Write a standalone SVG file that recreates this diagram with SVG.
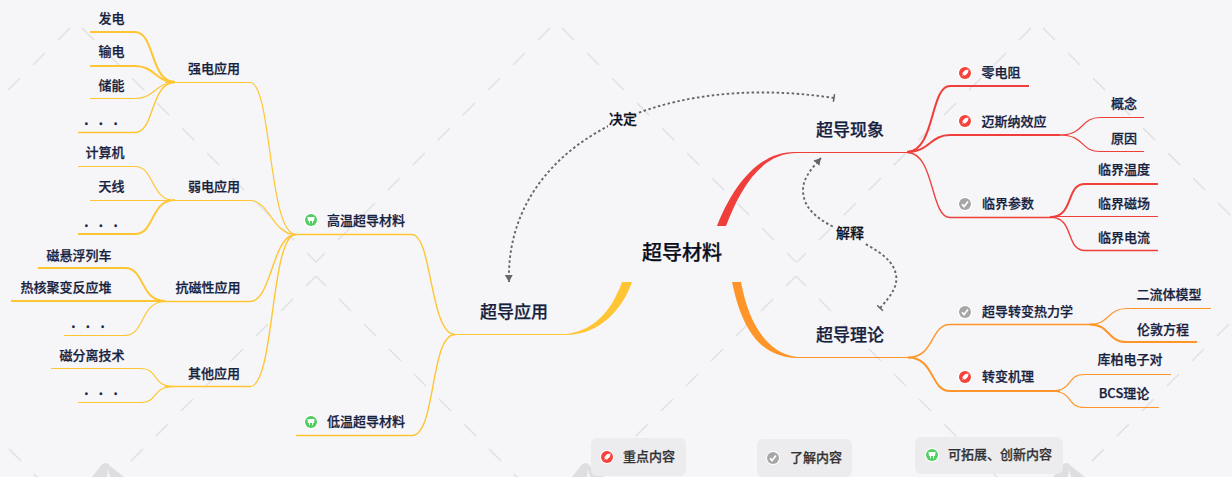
<svg xmlns="http://www.w3.org/2000/svg" xmlns:xlink="http://www.w3.org/1999/xlink" width="1232" height="477" viewBox="0 0 1232 477">
<style>
text{font-family:"Noto Sans CJK SC","Noto Sans",sans-serif;font-weight:500;fill:#16213e;stroke:#16213e;stroke-width:.25px;text-anchor:middle;dominant-baseline:central;transform:translateY(-1.7px)}
.t13{font-size:13px}.t17{font-size:17px}.t20{font-size:20px;fill:#0b0f1c;stroke:#0b0f1c}.t14{font-size:14px;fill:#0b0f1c;stroke:#0b0f1c}
.leg{font-size:13px;fill:#333;stroke:#333}
.dots{font-size:13px;font-weight:700;word-spacing:7.4px;transform:none}
.wm{fill:none;stroke:#e2e2e5;stroke-width:1.6;stroke-dasharray:17 18.4}
.y,.r,.o{fill:none;stroke-linecap:butt}
.y{stroke:#ffc533}.r{stroke:#f03f3a}.o{stroke:#ff9528}
.a{stroke-width:1.2}.b{stroke-width:1.4}.c{stroke-width:2}
.rel{fill:none;stroke:#666;stroke-width:1.9;stroke-dasharray:2.5 2.5}
.leg-box{fill:#ececee}
</style>
<defs>
<g id="wm-tile">
<path class="wm" d="M82,28L316,262"/>
<path class="wm" d="M70,28L-164,262"/>
<path class="wm" d="M316,276L556,516" stroke-dashoffset="3"/>
<path class="wm" d="M316,276L76,516" stroke-dashoffset="3"/>
<path d="M106,463Q102,463 100,467L92,477H107L108,469L110,477H124L110,466Q108,463 106,463Z" fill="#dedee0"/>
</g>
<g id="i-red"><circle r="7" fill="#fff"/><circle r="6" fill="#f5423c"/><path d="M3.6,-3.6L.2,-3L-3,.4L-1.6,.8L-3.4,3.4L-.8,1.6L-.4,3L3,-.2Z" fill="#fff"/></g>
<g id="i-gray"><circle r="7" fill="#fff"/><circle r="6" fill="#a6a6a6"/><path d="M-3,.2L-1,2.6L3,-2.6" fill="none" stroke="#fff" stroke-width="1.7"/></g>
<g id="i-green"><circle r="7" fill="#fff"/><circle r="6" fill="#4fcf5f"/><path d="M-3.6,-3H3.6L3,1H2V3.2H1V1H-1V3.2H-2V1H-3Z" fill="#fff"/></g>
<marker id="arr" markerUnits="userSpaceOnUse" markerWidth="10" markerHeight="10" refX="7" refY="4" orient="auto"><path d="M0,0L7,4L0,8Z" fill="#666"/></marker>
<marker id="tail" markerUnits="userSpaceOnUse" markerWidth="4" markerHeight="10" refX="1" refY="4" orient="auto"><path d="M1,0V8" stroke="#666" stroke-width="1.6" fill="none"/></marker>
</defs>
<rect width="1232" height="477" fill="#f6f6f9"/>
<g id="watermark">
<use xlink:href="#wm-tile" href="#wm-tile"/>
<use xlink:href="#wm-tile" href="#wm-tile" x="480"/>
<use xlink:href="#wm-tile" href="#wm-tile" x="961"/>
<use xlink:href="#wm-tile" href="#wm-tile" x="-480"/>
</g>
<g id="connectors">
<path d="M622,282H632C622,310 600,334 567,335V334C595,330 612,310 622,282Z" fill="#ffc533"/>
<path d="M717,226H726C740,190 760,153 797,153V152C760,150 733,185 717,226Z" fill="#f03f3a"/>
<path d="M732,282H741C748,320 765,353 797,357V358C755,357 740,320 732,282Z" fill="#ff9528"/>
<path class="y a" d="M567,334.500H455"/>
<path class="r a" d="M797,152.500H910"/>
<path class="o a" d="M797,357.500H913"/>
<path class="y b" d="M455,334.500C430,334.500 432,234.500 412,234.500H296"/>
<path class="y b" d="M455,334.500C430,334.500 436,435.500 412,435.500H296"/>
<path class="y a" d="M296,234.500C268,234.500 272,82.500 250,82.500H165"/>
<path class="y a" d="M296,234.500C272,234.500 270,200.500 250,200.500H165"/>
<path class="y b" d="M296,234.500C272,234.500 272,301.500 250,301.500H160"/>
<path class="y b" d="M296,234.500C270,234.500 275,386.500 250,386.500H165"/>
<path class="y c" d="M175,82C150,82 155,32 135,32H90"/>
<path class="y c" d="M175,82C155,82 155,66 135,66H90"/>
<path class="y a" d="M175,82.500C155,82.500 155,98.500 135,98.500H90"/>
<path class="y b" d="M175,82.500C150,82.500 155,132.500 135,132.500H78"/>
<path class="y a" d="M175,200.500C150,200.500 155,166.500 135,166.500H78"/>
<path class="y a" d="M175,200.500H90"/>
<path class="y c" d="M175,200C150,200 155,234 135,234H78"/>
<path class="y c" d="M165,301C140,301 145,268 125,268H38"/>
<path class="y c" d="M165,301H11"/>
<path class="y a" d="M165,301.500C140,301.500 145,335.500 125,335.500H64"/>
<path class="y a" d="M175,386.500C150,386.500 160,368.500 140,368.500H51"/>
<path class="y a" d="M175,386.500C150,386.500 160,402.500 140,402.500H78"/>
<path class="r c" d="M907,152C935,152 930,86 950,86H1029"/>
<path class="r c" d="M907,152C930,152 930,135 950,135H1060"/>
<path class="r b" d="M907,152.500C935,152.500 930,217.500 950,217.500H1055"/>
<path class="r a" d="M1060,135C1085,135 1080,117.500 1100,117.500H1144"/>
<path class="r a" d="M1060,135C1085,135 1080,151.500 1100,151.500H1144"/>
<path class="r c" d="M1050,217C1075,217 1065,184 1085,184H1158"/>
<path class="r a" d="M1050,216.500H1158"/>
<path class="r b" d="M1050,217C1075,217 1065,250.500 1085,250.500H1158"/>
<path class="o b" d="M908,357.500C935,357.500 930,324.500 950,324.500H1095"/>
<path class="o c" d="M908,357.500C935,357.500 930,391 950,391H1060"/>
<path class="o a" d="M1090,324.500C1110,324.500 1107,308.500 1127,308.500H1211"/>
<path class="o c" d="M1090,324.500C1110,324.500 1107,342 1127,342H1197"/>
<path class="o a" d="M1050,391C1075,391 1065,374.500 1085,374.500H1171"/>
<path class="o a" d="M1050,391C1075,391 1065,407.500 1085,407.500H1159"/>
<path class="rel" d="M834,98C650,70 505,150 509,282" marker-start="url(#tail)" marker-end="url(#arr)"/>
<path class="rel" d="M880,308C892,295 898,285 896,275C893,255 865,245 850,235C830,225 803,215 803,190C803,178 812,168 821,158" marker-start="url(#tail)" marker-end="url(#arr)"/>
</g>
<g id="rel-labels">
<g id="label-juede"><rect x="608" y="110" width="30" height="20" fill="#f6f6f9"/><text class="t14" x="623" y="120">决定</text></g>
<g id="label-jieshi"><rect x="835" y="224" width="30" height="20" fill="#f6f6f9"/><text class="t14" x="850" y="234">解释</text></g>
</g>
<g id="n-root"><text class="t20" x="682" y="253">超导材料</text></g>
<g id="n-app"><text class="t17" x="514" y="312">超导应用</text></g>
<g id="n-phen"><text class="t17" x="850" y="130">超导现象</text></g>
<g id="n-theory"><text class="t17" x="850" y="335">超导理论</text></g>
<g id="n-htc"><use href="#i-green" x="311" y="220"/><text class="t13" x="366" y="221">高温超导材料</text></g>
<g id="n-ltc"><use href="#i-green" x="311" y="422"/><text class="t13" x="366" y="422">低温超导材料</text></g>
<g id="n-strong"><text class="t13" x="214" y="69">强电应用</text></g>
<g id="n-weak"><text class="t13" x="214" y="187">弱电应用</text></g>
<g id="n-diamag"><text class="t13" x="208" y="288">抗磁性应用</text></g>
<g id="n-other"><text class="t13" x="214" y="374">其他应用</text></g>
<g id="n-fadian"><text class="t13" x="111.500" y="19">发电</text></g>
<g id="n-shudian"><text class="t13" x="111.500" y="52">输电</text></g>
<g id="n-chuneng"><text class="t13" x="111.500" y="86">储能</text></g>
<g id="n-dots1"><text class="dots" x="101" y="119">. . .</text></g>
<g id="n-computer"><text class="t13" x="105" y="153">计算机</text></g>
<g id="n-antenna"><text class="t13" x="111.500" y="187">天线</text></g>
<g id="n-dots2"><text class="dots" x="101" y="221">. . .</text></g>
<g id="n-maglev"><text class="t13" x="79" y="256">磁悬浮列车</text></g>
<g id="n-fusion"><text class="t13" x="66" y="288">热核聚变反应堆</text></g>
<g id="n-dots3"><text class="dots" x="88" y="322">. . .</text></g>
<g id="n-magsep"><text class="t13" x="92" y="356">磁分离技术</text></g>
<g id="n-dots4"><text class="dots" x="101" y="389">. . .</text></g>
<g id="n-zero"><use href="#i-red" x="965" y="73"/><text class="t13" x="1001" y="73">零电阻</text></g>
<g id="n-meissner"><use href="#i-red" x="965" y="121"/><text class="t13" x="1014" y="122">迈斯纳效应</text></g>
<g id="n-critical"><use href="#i-gray" x="965" y="204"/><text class="t13" x="1008" y="204">临界参数</text></g>
<g id="n-concept"><text class="t13" x="1124" y="104">概念</text></g>
<g id="n-cause"><text class="t13" x="1124" y="139">原因</text></g>
<g id="n-tc"><text class="t13" x="1124" y="170">临界温度</text></g>
<g id="n-hc"><text class="t13" x="1124" y="204">临界磁场</text></g>
<g id="n-ic"><text class="t13" x="1124" y="238">临界电流</text></g>
<g id="n-thermo"><use href="#i-gray" x="965" y="312"/><text class="t13" x="1027.500" y="312">超导转变热力学</text></g>
<g id="n-mech"><use href="#i-red" x="965" y="377"/><text class="t13" x="1008" y="377">转变机理</text></g>
<g id="n-twofluid"><text class="t13" x="1169" y="295">二流体模型</text></g>
<g id="n-london"><text class="t13" x="1163" y="330">伦敦方程</text></g>
<g id="n-cooper"><text class="t13" x="1130" y="360">库柏电子对</text></g>
<g id="n-bcs"><text class="t13" x="1124" y="394">BCS理论</text></g>
<g id="legend-key"><rect class="leg-box" x="591" y="438" width="95" height="38" rx="6"/><use href="#i-red" x="607" y="457"/><text class="leg" x="649" y="457">重点内容</text></g>
<g id="legend-know"><rect class="leg-box" x="757" y="439" width="95" height="38" rx="6"/><use href="#i-gray" x="773" y="458"/><text class="leg" x="816" y="458">了解内容</text></g>
<g id="legend-ext"><rect class="leg-box" x="915" y="437" width="148" height="37" rx="6"/><use href="#i-green" x="932" y="455"/><text class="leg" x="1000" y="455">可拓展、创新内容</text></g>
</svg>
